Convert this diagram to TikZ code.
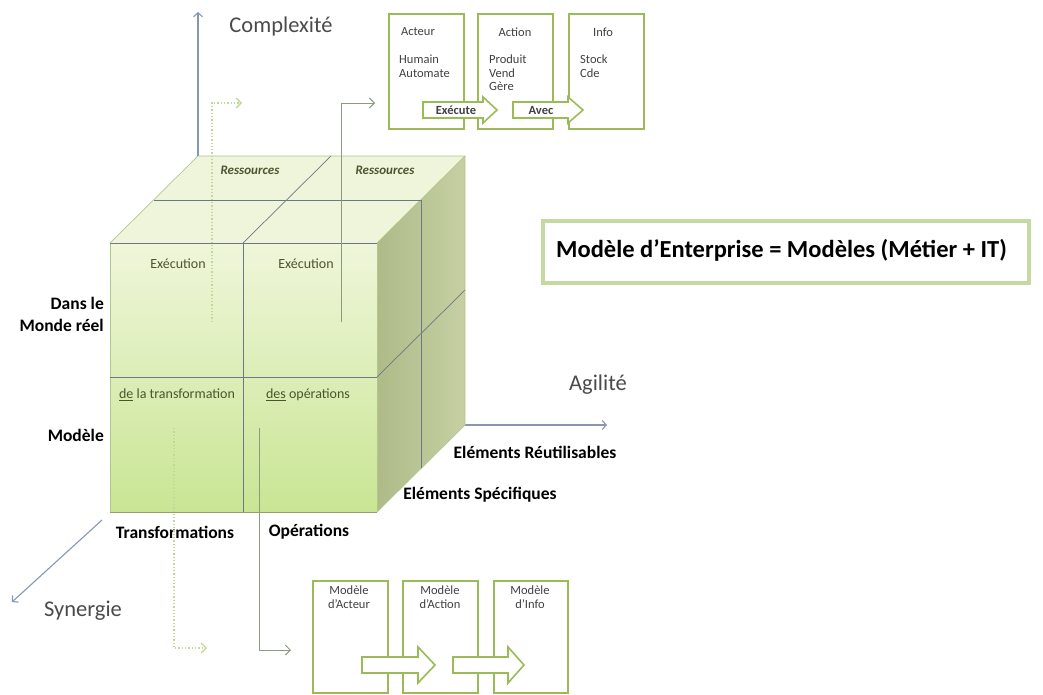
\documentclass[tikz,border=0pt]{standalone}
\usepackage{fontspec}
\setmainfont{Carlito}
\usetikzlibrary{arrows.meta}

\definecolor{boxgreen}{HTML}{9BBB59}
\definecolor{palegreen}{HTML}{C6D9A0}
\definecolor{axisblue}{HTML}{8797B2}
\definecolor{frontTop}{HTML}{EFF6DA}
\definecolor{frontBot}{HTML}{C9E594}
\definecolor{topface}{HTML}{EEF5DA}
\definecolor{sideL}{HTML}{AEBB88}
\definecolor{sideR}{HTML}{C6D0A3}
\definecolor{cubeedge}{HTML}{B3C78C}
\definecolor{cubeline}{HTML}{6B7987}
\definecolor{cubetext}{HTML}{4A5530}
\definecolor{flowgray}{HTML}{8C9A80}
\definecolor{dotgreen}{HTML}{C2D896}
\definecolor{axistext}{HTML}{4A4A4A}

\newcommand{\axislabelfont}{\fontsize{22.5}{26}\selectfont}
\newcommand{\sidelabelfont}{\fontsize{17.5}{22}\selectfont\bfseries}
\newcommand{\cubetextfont}{\fontsize{14}{16}\selectfont}
\newcommand{\boxtextfont}{\fontsize{12.5}{13.5}\selectfont}
\newcommand{\bigtextfont}{\fontsize{24.5}{28}\selectfont\bfseries}

\tikzset{
  axis/.style={draw=axisblue, line width=1.1pt, -{Straight Barb[length=4pt,width=9pt]}},
  flowline/.style={draw=flowgray, line width=0.9pt, -{Straight Barb[length=5pt,width=10pt]}},
  flowdot/.style={draw=dotgreen, dotted, line width=1.3pt, -{Straight Barb[length=5pt,width=10pt]}},
  greenbox/.style={draw=boxgreen, line width=1.8pt, fill=white, anchor=north west,
    minimum width=75pt, minimum height=115pt, inner sep=0pt},
  blockarrow/.style={draw=boxgreen, line width=1.6pt, fill=white, line join=miter},
  sidelabel/.style={font=\sidelabelfont, text=black, inner sep=0pt},
  axislabel/.style={font=\axislabelfont, text=axistext, inner sep=0pt},
  cubetext/.style={font=\cubetextfont, text=cubetext, inner sep=0pt},
  boxtext/.style={font=\boxtextfont, text=black!75, inner sep=0pt}
}

\begin{document}
\begin{tikzpicture}[x=1pt,y=-1pt]
\useasboundingbox (0,0) rectangle (1043,695);

% axes
\coordinate (o1) at (198,157);
\coordinate (o2) at (465,425);
\coordinate (o3) at (102,520);
\coordinate (cx) at (198,12);
\coordinate (ag) at (607,425);
\coordinate (sy) at (12,602);
\draw[axis] (o1) -- (cx);
\draw[axis] (o2) -- (ag);
\draw[axis] (o3) -- (sy);
\node[axislabel] (complexite) at (281,27) {Complexité};
\node[axislabel] (agilite) at (598,385) {Agilité};
\node[axislabel] (synergie) at (83,611) {Synergie};

% cube
\fill[topface] (110,243) -- (198,156) -- (465,156) -- (377,243) -- cycle;
\shade[left color=sideL, right color=sideR] (377,243) -- (465,156) -- (465,425) -- (377,512) -- cycle;
\shade[top color=frontTop, bottom color=frontBot] (110,243) rectangle (377,512);
\draw[cubeedge, line width=0.7pt] (110,243) -- (198,156) -- (465,156) -- (465,425) -- (377,512);
\draw[cubeedge, line width=0.7pt] (377,243) -- (465,156);
\draw[cubeedge!80!black, line width=0.9pt] (110,512) -- (377,512);
\draw[cubeedge, line width=0.7pt] (110,243) -- (110,512) (377,243) -- (377,512);
\draw[cubeline, line width=0.7pt] (110,243) -- (377,243);
\draw[cubeline, line width=0.7pt] (154,200) -- (421,200) -- (421,468);
\draw[cubeline, line width=0.7pt] (243,243) -- (331,156);
\draw[cubeline, line width=0.7pt] (377,377) -- (465,290);
\draw[cubeline, line width=0.7pt] (243,243) -- (243,512);
\draw[cubeline, line width=0.7pt] (110,377) -- (377,377);

\node[cubetext, font=\fontsize{13}{15}\selectfont\bfseries\itshape] (res1) at (250,170) {Ressources};
\node[cubetext, font=\fontsize{13}{15}\selectfont\bfseries\itshape] (res2) at (385,170) {Ressources};
\node[cubetext] (exe1) at (178,264) {Exécution};
\node[cubetext] (exe2) at (306,264) {Exécution};
\node[cubetext] (trans) at (177,395) {\underline{de} la transformation};
\node[cubetext] (ops) at (308,395) {\underline{des} opérations};

% labels round the cube
\node[sidelabel, align=right, anchor=east] (reel) at (104,314) {Dans le\\Monde réel};
\node[sidelabel, anchor=east] (modele) at (104,435) {Modèle};
\node[sidelabel] (transformations) at (175,532) {Transformations};
\node[sidelabel] (operations) at (309,532) {Opérations};
\node[sidelabel] (reutil) at (535,452) {Eléments Réutilisables};
\node[sidelabel] (specif) at (480,495) {Eléments Spécifiques};

% top boxes
\node[greenbox] (acteur) at (388,13) {};
\node[greenbox] (action) at (477,13) {};
\node[greenbox] (info) at (568,13) {};
\node[boxtext] (acteurT) at (418,32) {Acteur};
\node[boxtext] (actionT) at (515,32) {Action};
\node[boxtext] (infoT) at (603,32) {Info};
\node[boxtext, align=left, anchor=north west] (acteurL) at (399,55) {Humain\\Automate};
\node[boxtext, align=left, anchor=north west] (actionL) at (489,55) {Produit\\Vend\\Gère};
\node[boxtext, align=left, anchor=north west] (infoL) at (580,55) {Stock\\Cde};
\draw[blockarrow] (423,102) -- (483,102) -- (483,97) -- (497,110) -- (483,123) -- (483,118) -- (423,118) -- cycle;
\draw[blockarrow] (513,102) -- (568,102) -- (568,97) -- (583,110) -- (568,123) -- (568,118) -- (513,118) -- cycle;
\node[boxtext, font=\boxtextfont\bfseries] (execute) at (456,110) {Exécute};
\node[boxtext, font=\boxtextfont\bfseries] (avec) at (541,110) {Avec};

% bottom boxes
\node[greenbox, minimum height=112pt] (macteur) at (312,580) {};
\node[greenbox, minimum height=112pt] (maction) at (402,580) {};
\node[greenbox, minimum height=112pt, minimum width=74pt] (minfo) at (493,580) {};
\node[boxtext, align=center, anchor=north] (macteurT) at (349,586) {Modèle\\d'Acteur};
\node[boxtext, align=center, anchor=north] (mactionT) at (440,586) {Modèle\\d'Action};
\node[boxtext, align=center, anchor=north] (minfoT) at (530,586) {Modèle\\d'Info};
\draw[blockarrow] (362,657) -- (418,657) -- (418,647) -- (435,665) -- (418,683) -- (418,673) -- (362,673) -- cycle;
\draw[blockarrow] (453,657) -- (508,657) -- (508,647) -- (524,665) -- (508,683) -- (508,673) -- (453,673) -- cycle;

% flows
\coordinate (exT) at (212,322);
\coordinate (exTend) at (242,103);
\coordinate (exO) at (341,322);
\coordinate (exOend) at (375,103);
\coordinate (trB) at (174,428);
\coordinate (trBend) at (207,648);
\coordinate (opB) at (259,428);
\coordinate (opBend) at (291,650);
\draw[flowdot] (exT) |- (exTend);
\draw[flowline] (exO) |- (exOend);
\draw[flowdot] (trB) |- (trBend);
\draw[flowline] (opB) |- (opBend);

% equation box
\node[draw=palegreen, line width=4pt, fill=white, anchor=north west, minimum width=486pt,
  minimum height=62pt] (equation) at (541,219) {};
\node[font=\bigtextfont, anchor=west, inner sep=0pt] (eqtext) at (556,250) {Modèle d’Enterprise = Modèles (Métier + IT)};
\end{tikzpicture}
\end{document}
